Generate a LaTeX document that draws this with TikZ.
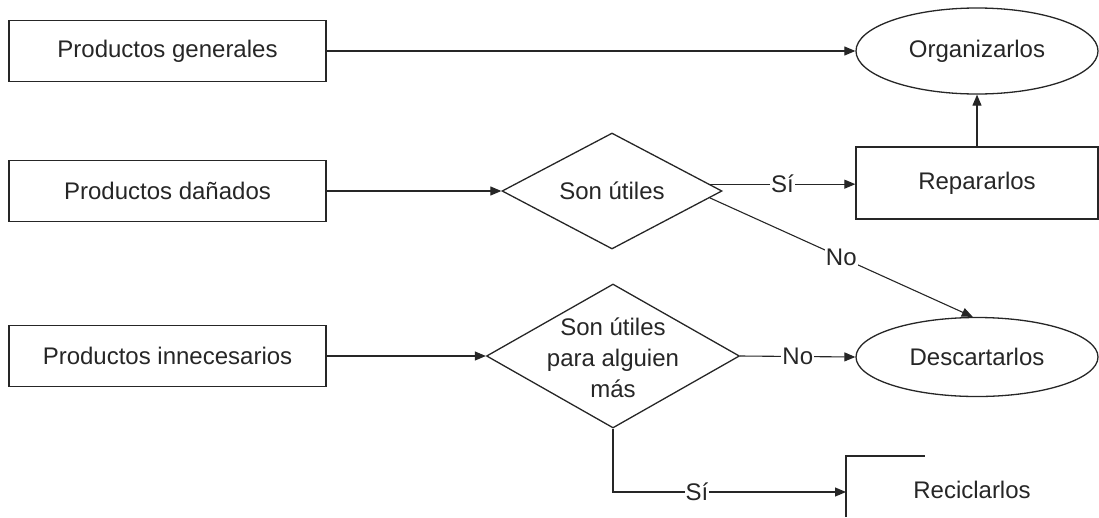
\documentclass[tikz,border=0pt]{standalone}
\usepackage{fontspec}
\setmainfont{Liberation Sans}
\usetikzlibrary{shapes.geometric,arrows.meta}
\begin{document}
\begin{tikzpicture}[x=1pt,y=-1pt,
  txt/.style={font=\fontsize{24}{31}\selectfont, text=black!85},
  procbox/.style={txt, draw=black!85, line width=1.3pt, inner sep=0pt,
    minimum width=317pt, minimum height=61pt},
  actbox/.style={txt, draw=black!85, line width=1.3pt, inner sep=0pt,
    minimum width=242pt, minimum height=72pt},
  endnode/.style={txt, ellipse, draw=black!85, line width=1.3pt, inner sep=0pt,
    minimum width=242pt},
  choice/.style={txt, diamond, aspect=2, draw=black!85, line width=1.3pt, inner sep=0pt},
  flow/.style={draw=black!85, line width=1.1pt, -{Triangle[length=11pt,width=9pt]}},
  lab/.style={txt, fill=white, inner sep=1pt}
]
\useasboundingbox (0,0) rectangle (1099,517);

% left column: the three kinds of products
\node[procbox] (gen) at (167.5,51) {Productos generales};
\node[procbox] (dan) at (167.5,191) {Productos dañados};
\node[procbox] (inn) at (167.5,356) {Productos innecesarios};

% decisions
\node[choice, minimum width=220pt, minimum height=116pt] (d1) at (612,191) {Son útiles};
\node[choice, minimum width=253pt, minimum height=144pt] (d2) at (613,356) {};
\node[txt, align=center] (d2txt) at (613,358) {Son útiles\\para alguien\\más};

% outcomes
\node[endnode, minimum height=86pt] (org) at (977,51) {Organizarlos};
\node[actbox] (rep) at (977,183) {Repararlos};
\node[endnode, minimum height=79pt] (desc) at (977,357) {Descartarlos};

% recycling box, running off the lower edge
\node[txt] (rec) at (972,490) {Reciclarlos};
\coordinate (recTL) at (846,456);
\coordinate (recBL) at (846,517);
\coordinate (recTR) at (925,456);
\coordinate (recIn) at (846,492);
\draw[black!85, line width=1.3pt] (recBL) -- (recTL) -- (recTR);

% connectors
\draw[flow] (gen) -- (org);
\draw[flow] (dan) -- (d1);
\draw[flow] (inn) -- (d2);
\draw[flow] (d1.4.8) -- node[lab] {Sí} (d1.4.8 -| rep.west);
\draw[flow] (d1.-4.8) -- node[lab] {No} (desc.96);
\draw[flow] (rep) -- (org);
\draw[flow] (d2.east) -- node[lab] {No} (desc.west);
\draw[flow] (d2.south) |- node[lab, pos=0.68] {Sí} (recIn);
\end{tikzpicture}
\end{document}
